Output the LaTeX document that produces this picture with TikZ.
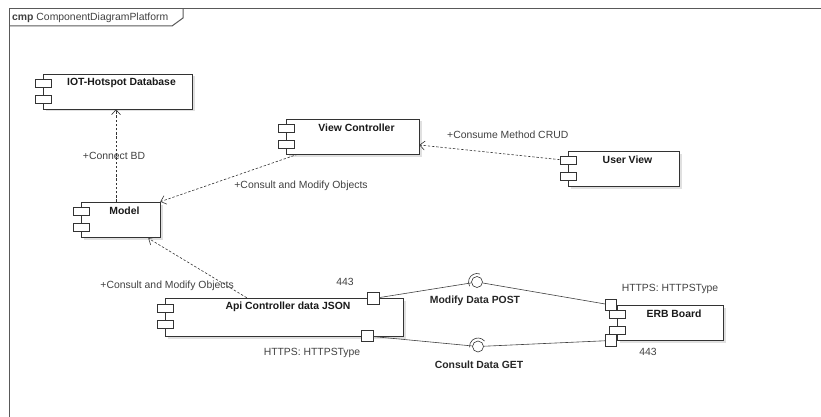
\documentclass[tikz,border=0pt]{standalone}
\usepackage{fontspec}
\setmainfont{Liberation Sans}
\usetikzlibrary{arrows.meta,shadows}

\tikzset{
  frame/.style={draw=black!65, line width=1pt},
  component/.style={rectangle, draw=black!80, line width=0.6pt, fill=white, minimum height=35pt, inner sep=0pt,
    drop shadow={fill=black, opacity=0.12, shadow xshift=2.5pt, shadow yshift=-2.5pt}},
  compname/.style={anchor=center, yshift=-9.5pt, xshift=4pt, text=black!90,
    font=\fontsize{10.4}{12}\selectfont\bfseries},
  dep/.style={draw=black!80, line width=0.6pt, dash pattern=on 2.4pt off 1.8pt,
    -{Straight Barb[length=5pt,width=9pt]}},
  lbl/.style={font=\fontsize{10.4}{12}\selectfont, text=black!75, inner sep=1pt},
  ballname/.style={font=\fontsize{10.4}{12}\selectfont\bfseries, text=black!85, inner sep=1pt},
  wire/.style={draw=black!75, line width=0.6pt},
}

\begin{document}
\begin{tikzpicture}[x=1pt,y=-1pt]
            \useasboundingbox (0,0) rectangle (821,417);

            % diagram frame and its tab
            \draw[frame] (9,417) -- (9,9) -- (821,9);
            \draw[frame] (9,26) -- (172,26) -- (183,18) -- (183,9);
            \node[lbl, anchor=west] (0) at (11,17.5) {\textbf{cmp} ComponentDiagramPlatform};

            % components
            \node[component, minimum width=149pt, label={[compname]north:IOT-Hotspot Database}] (1) at (117.5,91.5) {};
            \node[component, minimum width=133pt, label={[compname]north:View Controller}] (2) at (352.5,136.5) {};
            \node[component, minimum width=111pt, label={[compname]north:User View}] (3) at (623.5,168.5) {};
            \node[component, minimum width=79pt, label={[compname]north:Model}] (4) at (120.5,219.5) {};
            \node[component, minimum width=238pt, minimum height=38pt, label={[compname]north:Api Controller data JSON}] (5) at (284,317) {};
            \node[component, minimum width=106pt, label={[compname]north:ERB Board}] (6) at (670,322.5) {};

            % component icons
            \begin{scope}[every node/.style={rectangle, draw=black!80, line width=0.6pt, fill=white, minimum width=16pt, minimum height=8pt, inner sep=0pt}]
                \node (7) at (43,83.5) {};
                \node (8) at (43,99) {};

                \node (9) at (286,128.5) {};
                \node (10) at (286,144) {};

                \node (11) at (568,160.5) {};
                \node (12) at (568,176) {};

                \node (13) at (81,211.5) {};
                \node (14) at (81,227) {};

                \node (15) at (165,308) {};
                \node (16) at (165,324) {};

                \node (17) at (617,314.5) {};
                \node (18) at (617,330.5) {};
            \end{scope}

            % ports
            \begin{scope}[every node/.style={rectangle, draw=black!80, line width=0.6pt, fill=white, minimum size=11.5pt, inner sep=0pt}]
                \node (19) at (373.5,298.5) {};
                \node (20) at (367.5,336) {};
                \node (21) at (611,305) {};
                \node (22) at (611,340.5) {};
            \end{scope}

            % provided / required interfaces
            \begin{scope}[every node/.style={circle, draw=black!80, line width=0.6pt, fill=white, minimum size=11pt, inner sep=0pt}]
                \node (23) at (477,282) {};
                \node (24) at (478,346.5) {};
            \end{scope}
            \draw[black!80, line width=0.6pt] ([shift={(70:8.5pt)}]23.center) arc[start angle=70, end angle=210, radius=8.5pt];
            \draw[black!80, line width=0.6pt] ([shift={(40:8.5pt)}]24.center) arc[start angle=40, end angle=185, radius=8.5pt];

            \node[ballname] (25) at (475,301) {Modify Data POST};
            \node[ballname] (26) at (479,365) {Consult Data GET};

            % port labels
            \node[lbl] (27) at (345,282) {443};
            \node[lbl] (28) at (312,353) {HTTPS: HTTPSType};
            \node[lbl] (29) at (670,289) {HTTPS: HTTPSType};
            \node[lbl] (30) at (648,352) {443};

            % assembly wires
            \path [wire] (19) edge node {} (23);
            \path [wire] (23) edge node {} (21);
            \path [wire] (20) edge node {} (24);
            \path [wire] (24) edge node {} (22);

            % dependencies
            \path ([xshift=-4.5pt]4.north) edge[dep] node[lbl, xshift=-2pt] {+Connect BD} ([xshift=-1.5pt]1.south);
            \path ([xshift=12pt]2.south west) edge[dep] node[lbl, pos=0.47, anchor=north west, yshift=-3.5pt] {+Consult and Modify Objects} (4.north east);
            \path (11) edge[dep] node[lbl, pos=0.37, yshift=19pt] {+Consume Method CRUD} ([yshift=-8.5pt]2.east);
            \path ([xshift=82pt]5.north west) edge[dep] node[lbl, pos=0.2, anchor=east, xshift=8pt] {+Consult and Modify Objects} ([xshift=-12pt,yshift=-1pt]4.south east);
\end{tikzpicture}
\end{document}
